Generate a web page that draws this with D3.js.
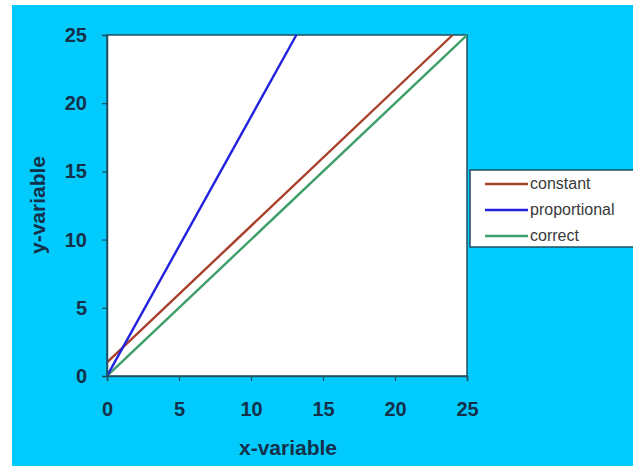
<!DOCTYPE html>
<html><head><meta charset="utf-8">
<script src="https://cdn.jsdelivr.net/npm/d3@7"></script>
<style>html,body{margin:0;padding:0;background:#fff;}</style>
</head><body>
<svg id="c" width="633" height="466"></svg>
<script>
const seriesNames = ["constant", "proportional", "correct"];
const seriesColors = ["#A8402C", "#2222DD", "#3E9E6C"];
const constantX = [0, 24];
const constantY = [1, 25];
const proportionalX = [0, 13.15];
const proportionalY = [0, 25];
const correctX = [0, 25];
const correctY = [0, 25];
const xTicks = [0, 5, 10, 15, 20, 25];
const yTicks = [0, 5, 10, 15, 20, 25];

const svg = d3.select("#c");
svg.append("rect").attr("x", 12).attr("y", 5).attr("width", 621).attr("height", 461).attr("fill", "#00CBFC");

const L = 107, R = 467, T = 35, B = 376;
const x = d3.scaleLinear().domain([0, 25]).range([L, R]);
const y = d3.scaleLinear().domain([0, 25]).range([B, T]);

svg.append("rect").attr("x", L).attr("y", T).attr("width", R - L).attr("height", B - T)
  .attr("fill", "#fff").attr("stroke", "#1f4f60").attr("stroke-width", 1.5);

svg.append("clipPath").attr("id", "pc").append("rect")
  .attr("x", L).attr("y", T - 2).attr("width", R - L).attr("height", B - T + 2);

const series = [
  {name: seriesNames[0], xs: constantX, ys: constantY, color: seriesColors[0]},
  {name: seriesNames[1], xs: proportionalX, ys: proportionalY, color: seriesColors[1]},
  {name: seriesNames[2], xs: correctX, ys: correctY, color: seriesColors[2]}
];
const line = d3.line().x(d => x(d[0])).y(d => y(d[1]));
const g = svg.append("g").attr("clip-path", "url(#pc)");
[series[2], series[0], series[1]].forEach(s => {
  g.append("path").datum(s.xs.map((v, i) => [v, s.ys[i]]))
    .attr("d", line).attr("fill", "none").attr("stroke", s.color).attr("stroke-width", 2.4);
});

const font = "'Liberation Sans', Arial, sans-serif";
const xa = svg.append("g").attr("transform", `translate(0,${B})`)
  .call(d3.axisBottom(x).tickValues(xTicks).tickSize(5).tickPadding(21));
const ya = svg.append("g").attr("transform", `translate(${L},0)`)
  .call(d3.axisLeft(y).tickValues(yTicks).tickSize(5).tickPadding(15));
[xa, ya].forEach(a => {
  a.select(".domain").attr("stroke", "#1f4f60").attr("stroke-width", 1.5);
  a.selectAll(".tick line").attr("stroke", "#1f4f60").attr("stroke-width", 1.2);
  a.selectAll("text").attr("fill", "#14304a").style("font-family", font)
    .style("font-size", "20px").style("font-weight", "bold");
});

svg.append("text").attr("x", 288).attr("y", 455).attr("text-anchor", "middle")
  .style("font-family", font).style("font-size", "21px").style("font-weight", "bold")
  .attr("fill", "#14304a").text("x-variable");
svg.append("text").attr("transform", "translate(45,205) rotate(-90)").attr("text-anchor", "middle")
  .style("font-family", font).style("font-size", "21px").style("font-weight", "bold")
  .attr("fill", "#14304a").text("y-variable");

const lg = svg.append("g");
lg.append("rect").attr("x", 470).attr("y", 170).attr("width", 170).attr("height", 77)
  .attr("fill", "#fff").attr("stroke", "#1f4f60").attr("stroke-width", 1.5);
series.forEach((s, i) => {
  const yy = 184 + i * 26;
  lg.append("line").attr("x1", 485).attr("x2", 528).attr("y1", yy).attr("y2", yy)
    .attr("stroke", s.color).attr("stroke-width", 2.4);
  lg.append("text").attr("x", 530).attr("y", yy + 5).style("font-family", font)
    .style("font-size", "16px").attr("fill", "#3a3a3a").text(s.name);
});
</script>
</body></html>
